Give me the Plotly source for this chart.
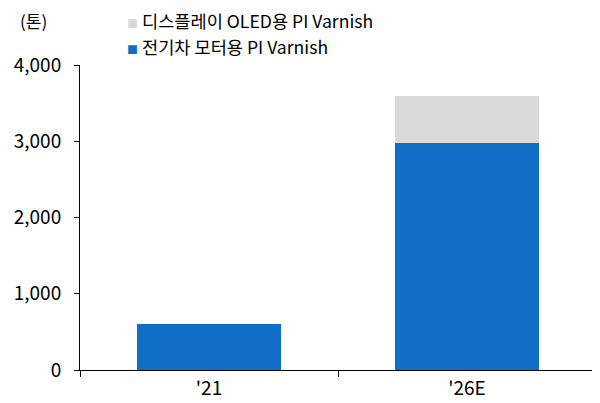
import plotly.graph_objects as go

categories = ["'21", "'26E"]
ev_motor = [600, 2980]
oled = [0, 620]
ytick_vals = [0, 1000, 2000, 3000, 4000]
ytick_text = ["0", "1,000", "2,000", "3,000", "4,000"]
names = ["디스플레이 OLED용 PI Varnish", "전기차 모터용 PI Varnish"]
colors = ["#D9D9D9", "#0F6FC6"]

FONT = "Noto Sans CJK KR"

fig = go.Figure()
fig.add_bar(x=categories, y=ev_motor, name=names[1],
            marker=dict(color=colors[1], line=dict(width=0)), width=0.556)
fig.add_bar(x=categories, y=oled, name=names[0],
            marker=dict(color=colors[0], line=dict(width=0)), width=0.556)

# page body has an 8px default margin; size the figure to fit the 600x403 window
fig.update_layout(
    barmode="stack",
    width=592, height=395,
    margin=dict(l=72, r=4, t=57, b=33, autoexpand=False),
    paper_bgcolor="white", plot_bgcolor="white",
    font=dict(family=FONT, size=18, color="#000000"),
    showlegend=False,
)
fig.update_yaxes(range=[0, 4000], tickvals=ytick_vals, ticktext=ytick_text,
                 showgrid=False, showline=True, linecolor="#000000", linewidth=1,
                 ticks="outside", ticklen=5, tickcolor="#000000", zeroline=False,
                 ticklabelstandoff=9, tickfont=dict(size=19, family=FONT))
fig.update_xaxes(type="category", showgrid=False, showline=True, linecolor="#000000",
                 linewidth=1, ticks="outside", ticklen=6, tickcolor="#000000",
                 tickson="boundaries", ticklabelstandoff=1,
                 tickfont=dict(size=19, family=FONT))

# legend drawn as text rows (square marker + label)
leg_y = [1.147, 1.060]
for i, (nm, col) in enumerate(zip(names, colors)):
    fig.add_annotation(
        text=f"<span style='color:{col};font-size:11px'>■</span> {nm}",
        xref="paper", yref="paper", x=0.087, y=leg_y[i],
        xanchor="left", yanchor="middle", showarrow=False,
        font=dict(size=17.6, family=FONT, color="#000000"))

fig.add_annotation(text="(톤)", xref="paper", yref="paper", x=-0.1205, y=1.147,
                   xanchor="left", yanchor="middle", showarrow=False,
                   font=dict(size=17, family=FONT))
fig.write_html("out.html")
